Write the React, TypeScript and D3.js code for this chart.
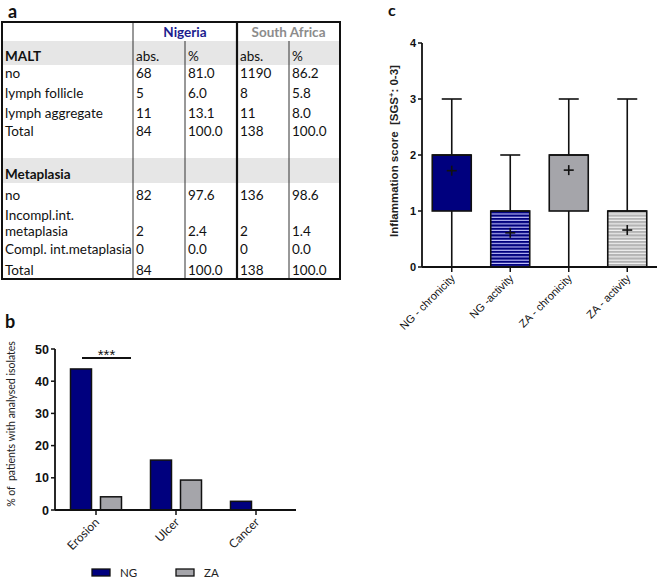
import * as d3 from 'd3'

// ---- panel a: table ----
const countries = ['Nigeria', 'South Africa']
const colHeads = ['abs.', '%', 'abs.', '%']
const maltRows = [
  ['no', '68', '81.0', '1190', '86.2'],
  ['lymph follicle', '5', '6.0', '8', '5.8'],
  ['lymph aggregate', '11', '13.1', '11', '8.0'],
  ['Total', '84', '100.0', '138', '100.0'],
]
const metaRows = [
  ['no', '82', '97.6', '136', '98.6'],
  ['Incompl.int.\nmetaplasia', '2', '2.4', '2', '1.4'],
  ['Compl. int.metaplasia', '0', '0.0', '0', '0.0'],
  ['Total', '84', '100.0', '138', '100.0'],
]

// ---- panel b: lesions ----
const lesions = ['Erosion', 'Ulcer', 'Cancer']
const groups = ['NG', 'ZA']
const ngLesion = [43.8, 15.5, 2.7]
const zaLesion = [4.1, 9.3, 0]
const pctTicks = [0, 10, 20, 30, 40, 50]

// ---- panel c: inflammation box plot ----
const boxCats = ['NG - chronicity', 'NG -activity', 'ZA - chronicity', 'ZA - activity']
const boxMin = [0, 0, 0, 0]
const boxQ1 = [1, 0, 1, 0]
const boxMedian = [2, 1, 2, 1]
const boxQ3 = [2, 1, 2, 1]
const boxMax = [3, 2, 3, 3]
const boxMean = [1.72, 0.61, 1.73, 0.66]
const scoreTicks = [0, 1, 2, 3, 4]

const NAVY = '#00007e'
const GREY = '#a5a5aa'
const LIGHT = '#b4b4b4'
const tableFont = 'Lato, "Open Sans", sans-serif'
const arial = '"Liberation Sans", Arial, sans-serif'

function TablePanel() {
  const colX = [2, 133, 185, 237, 289, 340]
  // header, MALT, 4 rows, blank, Metaplasia, 4 rows
  const rowH = [19, 24, 17, 20, 20, 18, 18, 25, 21, 36, 18, 21]
  const rowY = d3.cumsum([22, ...rowH])
  const body: string[][] = [
    ['MALT', ...colHeads],
    ...maltRows,
    ['', '', '', '', ''],
    ['Metaplasia', '', '', '', ''],
    ...metaRows,
  ]
  const grayRows = [1, 7]
  return (
    <g fontFamily={tableFont} fontSize={13.5} fill="#111">
      {grayRows.map((r) => (
        <rect key={r} x={colX[0]} y={rowY[r]} width={colX[5] - colX[0]} height={rowH[r]} fill="#e6e6e6" />
      ))}
      {countries.map((c, i) => (
        <text
          key={c}
          x={(colX[1 + i * 2] + colX[3 + i * 2]) / 2}
          y={rowY[1] - 4}
          textAnchor="middle"
          fontWeight="bold"
          fill={i === 0 ? '#1c1c8e' : '#8c8c8c'}
        >
          {c}
        </text>
      ))}
      {body.map((row, ri) => {
        const r = ri + 1
        const base = rowY[r + 1] - 4
        return row.map((cell, ci) => {
          const lines = cell.split('\n')
          return (
            <text
              key={`${r}-${ci}`}
              x={colX[ci] + 3}
              y={base - (lines.length - 1) * 16}
              fontWeight={ci === 0 && (cell === 'MALT' || cell === 'Metaplasia') ? 'bold' : 'normal'}
            >
              {lines.map((l, li) => (
                <tspan key={li} x={colX[ci] + 3} dy={li === 0 ? 0 : 16}>
                  {l}
                </tspan>
              ))}
            </text>
          )
        })
      })}
      {rowY.slice(1, -1).map((y, i) => (
        <line key={i} x1={colX[0]} x2={colX[5]} y1={y} y2={y} stroke="#333" strokeWidth={1} />
      ))}
      {[1, 2, 4].map((c) => (
        <line
          key={c}
          x1={colX[c]}
          x2={colX[c]}
          y1={c === 1 ? rowY[0] : rowY[1]}
          y2={rowY[rowY.length - 1]}
          stroke="#333"
          strokeWidth={1}
        />
      ))}
      <line x1={colX[3]} x2={colX[3]} y1={rowY[0]} y2={rowY[rowY.length - 1]} stroke="#111" strokeWidth={2.2} />
      <rect
        x={colX[0]}
        y={rowY[0]}
        width={colX[5] - colX[0]}
        height={rowY[rowY.length - 1] - rowY[0]}
        fill="none"
        stroke="#111"
        strokeWidth={2}
      />
    </g>
  )
}

function BarPanel() {
  const y = d3.scaleLinear().domain([0, 50]).range([510, 349])
  const x0 = d3.scaleBand().domain(lesions).range([56, 296])
  const x1 = d3.scaleBand().domain(groups).range([13, 67]).paddingInner(0.3).paddingOuter(0.05)
  const vals = [ngLesion, zaLesion]
  const colors = [NAVY, GREY]
  const sigX1 = x0('Erosion')! + 26
  const sigX2 = x0('Erosion')! + 75
  return (
    <g>
      <text
        transform={`translate(15,424) rotate(-90)`}
        textAnchor="middle"
        fontFamily={tableFont}
        fontSize={10.5}
        fill="#222"
        xmlSpace="preserve"
      >
        {'% of  patients with analysed isolates'}
      </text>
      {groups.map((g, gi) =>
        lesions.map((c, ci) => {
          const v = vals[gi][ci]
          if (v <= 0) return null
          return (
            <rect
              key={g + c}
              x={x0(c)! + x1(g)!}
              y={y(v)}
              width={x1.bandwidth()}
              height={y(0) - y(v)}
              fill={colors[gi]}
              stroke="#111"
              strokeWidth={1.5}
            />
          )
        }),
      )}
      <line x1={55} x2={55} y1={y(50)} y2={y(0)} stroke="#111" strokeWidth={1.8} />
      <line x1={55} x2={296} y1={y(0)} y2={y(0)} stroke="#111" strokeWidth={1.8} />
      {pctTicks.map((t) => (
        <g key={t}>
          <line x1={51} x2={55} y1={y(t)} y2={y(t)} stroke="#111" strokeWidth={1.5} />
          <text x={49} y={y(t) + 4.5} textAnchor="end" fontFamily={arial} fontWeight="bold" fontSize={12.5} fill="#111">
            {t}
          </text>
        </g>
      ))}
      {lesions.map((c) => {
        const cx = x0(c)! + x0.bandwidth() / 2
        return (
          <g key={c}>
            <line x1={cx} x2={cx} y1={y(0)} y2={y(0) + 5} stroke="#111" strokeWidth={1.5} />
            <text
              transform={`translate(${cx + 4},${y(0) + 13}) rotate(-45)`}
              textAnchor="end"
              fontFamily={tableFont}
              fontSize={12}
              fill="#222"
            >
              {c}
            </text>
          </g>
        )
      })}
      <line x1={sigX1} x2={sigX2} y1={358} y2={358} stroke="#111" strokeWidth={1.8} />
      <text x={(sigX1 + sigX2) / 2} y={360} textAnchor="middle" fontFamily={arial} fontSize={15} fill="#111">
        ***
      </text>
      {groups.map((g, gi) => (
        <g key={g} transform={`translate(${92 + gi * 84},569)`}>
          <rect x={0} y={0} width={18} height={7} fill={colors[gi]} stroke="#111" strokeWidth={1.3} />
          <text x={28} y={8} fontFamily={tableFont} fontSize={11.5} fill="#222">
            {g}
          </text>
        </g>
      ))}
    </g>
  )
}

function BoxPanel() {
  const y = d3.scaleLinear().domain([0, 4]).range([267, 43])
  const x = d3.scaleBand().domain(boxCats).range([422.5, 656.5])
  const bw = 39
  const fills = [NAVY, 'url(#stripeNavy)', GREY, 'url(#stripeGrey)']
  return (
    <g>
      <defs>
        <pattern id="stripeNavy" width={4} height={3.3} patternUnits="userSpaceOnUse">
          <rect width={4} height={3.3} fill={NAVY} />
          <rect y={2.2} width={4} height={1.1} fill="#c8c8ff" />
        </pattern>
        <pattern id="stripeGrey" width={4} height={3.3} patternUnits="userSpaceOnUse">
          <rect width={4} height={3.3} fill={LIGHT} />
          <rect y={2.2} width={4} height={1.1} fill="#f4f4f4" />
        </pattern>
      </defs>
      <text
        transform={`translate(398,151) rotate(-90)`}
        textAnchor="middle"
        fontFamily={arial}
        fontSize={11.5}
        fontWeight="bold"
        fill="#222"
        xmlSpace="preserve"
      >
        {'Inflammation score  [SGS'}
        <tspan fontSize={7.5} dy={-4}>
          +
        </tspan>
        <tspan dy={4}>{': 0-3]'}</tspan>
      </text>
      {boxCats.map((c, i) => {
        const cx = x(c)! + x.bandwidth() / 2
        return (
          <g key={c} stroke="#111" strokeWidth={1.6}>
            <line x1={cx} x2={cx} y1={y(boxMin[i])} y2={y(boxMax[i])} />
            <line x1={cx - 10} x2={cx + 10} y1={y(boxMax[i])} y2={y(boxMax[i])} />
            <line x1={cx - 10} x2={cx + 10} y1={y(boxMin[i])} y2={y(boxMin[i])} />
            <rect x={cx - bw / 2} y={y(boxQ3[i])} width={bw} height={y(boxQ1[i]) - y(boxQ3[i])} fill={fills[i]} />
            <line x1={cx - bw / 2} x2={cx + bw / 2} y1={y(boxMedian[i])} y2={y(boxMedian[i])} />
            <line x1={cx - 5} x2={cx + 5} y1={y(boxMean[i])} y2={y(boxMean[i])} />
            <line x1={cx} x2={cx} y1={y(boxMean[i]) - 5} y2={y(boxMean[i]) + 5} />
          </g>
        )
      })}
      <line x1={422} x2={422} y1={y(4)} y2={y(0)} stroke="#111" strokeWidth={1.8} />
      <line x1={422} x2={657} y1={y(0)} y2={y(0)} stroke="#111" strokeWidth={1.8} />
      {scoreTicks.map((t) => (
        <g key={t}>
          <line x1={418} x2={422} y1={y(t)} y2={y(t)} stroke="#111" strokeWidth={1.5} />
          <text x={416} y={y(t) + 4} textAnchor="end" fontFamily={arial} fontWeight="bold" fontSize={11} fill="#111">
            {t}
          </text>
        </g>
      ))}
      {boxCats.map((c) => {
        const cx = x(c)! + x.bandwidth() / 2
        return (
          <g key={c}>
            <line x1={cx} x2={cx} y1={y(0)} y2={y(0) + 5} stroke="#111" strokeWidth={1.5} />
            <text
              transform={`translate(${cx + 4},${y(0) + 12}) rotate(-45)`}
              textAnchor="end"
              fontFamily={arial}
              fontSize={11}
              fill="#111"
            >
              {c}
            </text>
          </g>
        )
      })}
    </g>
  )
}

export default function App() {
  return (
    <svg
      width={657}
      height={579}
      style={{ position: 'absolute', left: 0, top: 0, background: '#fff' }}
    >
      <rect width={657} height={579} fill="#fff" />
      <g fontFamily={tableFont} fontWeight="bold" fill="#111">
        <text x={8} y={18} fontSize={18}>a</text>
        <text x={5} y={328} fontSize={18}>b</text>
        <text x={388} y={16} fontSize={16}>c</text>
      </g>
      <TablePanel />
      <BarPanel />
      <BoxPanel />
    </svg>
  )
}
